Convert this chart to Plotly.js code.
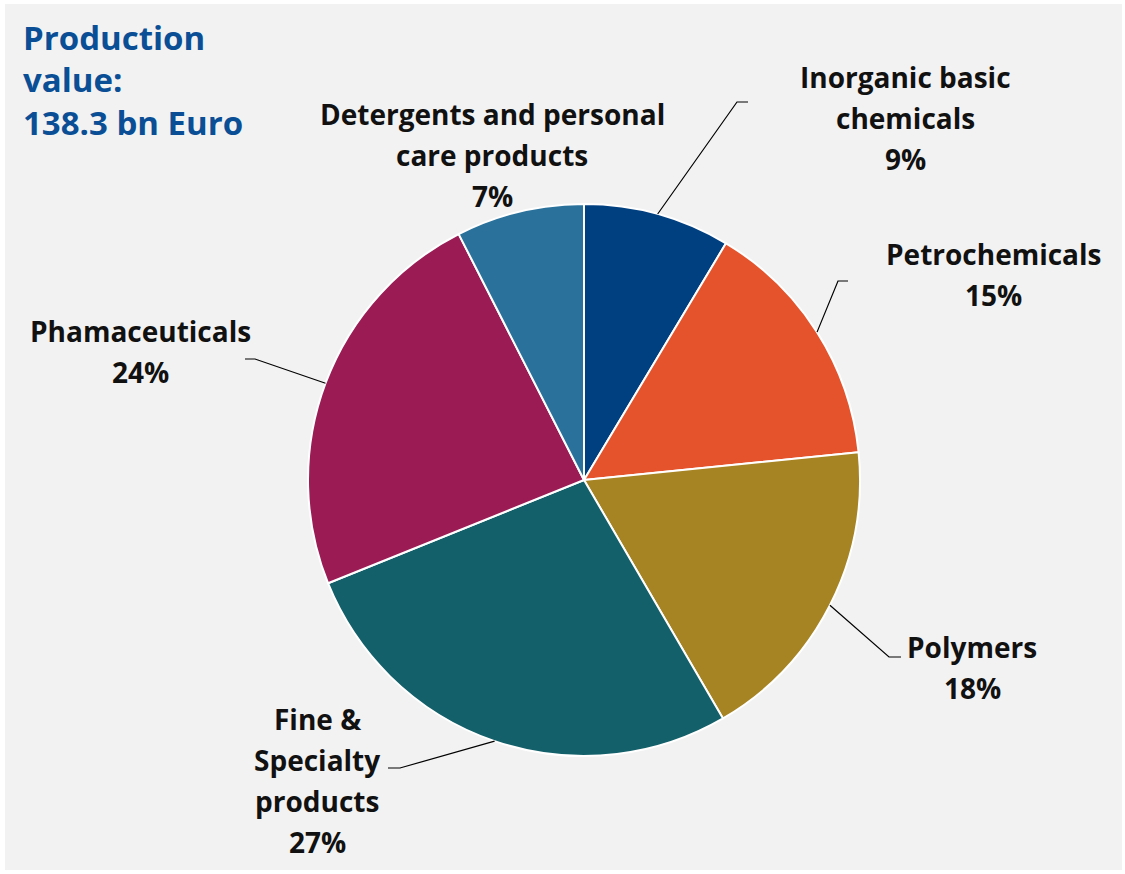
<!DOCTYPE html>
<html>
<head>
<meta charset="utf-8">
<script src="https://cdn.plot.ly/plotly-3.0.1.min.js"></script>
<style>html,body{margin:0;padding:0;background:#fff;}</style>
</head>
<body>
<div id="chart" style="width:1125px;height:874px;"></div>
<script>
// ---- data ----
const categories = ["Inorganic basic chemicals", "Petrochemicals", "Polymers", "Fine & Specialty products", "Phamaceuticals", "Detergents and personal care products"];
const shares = [8.6, 14.8, 18.2, 27.3, 23.6, 7.5];
const shareLabels = ["9%", "15%", "18%", "27%", "24%", "7%"];
const labelLines = [
  ["Inorganic basic", "chemicals"],
  ["Petrochemicals"],
  ["Polymers"],
  ["Fine &", "Specialty", "products"],
  ["Phamaceuticals"],
  ["Detergents and personal", "care products"]
];
const titleLines = ["Production", "value:", "138.3 bn Euro"];
const colors = ["#003f80", "#e4532b", "#a68424", "#13606a", "#9b1b55", "#2a729c"];

// ---- layout helpers ----
const W = 1125, H = 874;
const cx = 584, cy = 480, R = 276;
const fx = x => x / W;
const fy = y => 1 - y / H;

// label placement (pixel positions: center x, first line y) and leader elbows
const labelPos = [
  {x: 905, y: 77, elbow: [737, 102], end: 748},
  {x: 993, y: 254, elbow: [838, 281], end: 848},
  {x: 972, y: 647, elbow: [889, 657], end: 901},
  {x: 317, y: 719, elbow: [400, 768], end: 388},
  {x: 140, y: 331, elbow: [255, 359], end: 245},
  {x: 492, y: 114, elbow: null, end: null}
];
const lineGap = 41;
const labelFont = {family: "'Open Sans', sans-serif", size: 28, color: "#111111", weight: 700};

const annotations = [];
const shapes = [];

shapes.push({type: "rect", xref: "paper", yref: "paper", x0: fx(5), x1: fx(1122), y0: fy(870), y1: fy(4),
  fillcolor: "#f2f2f2", line: {width: 0}, layer: "below"});

const total = shares.reduce((a, b) => a + b, 0);
let cum = 0;
categories.forEach((c, i) => {
  const mid = (cum + shares[i] / 2) / total * 2 * Math.PI;
  cum += shares[i];
  const lp = labelPos[i];
  const lines = labelLines[i].concat([shareLabels[i]]);
  lines.forEach((t, k) => {
    annotations.push({text: "<b>" + t + "</b>", xref: "paper", yref: "paper",
      x: fx(lp.x), y: fy(lp.y + k * lineGap), xanchor: "center", yanchor: "middle",
      showarrow: false, font: labelFont});
  });
  if (lp.elbow) {
    const sx = cx + R * Math.sin(mid), sy = cy - R * Math.cos(mid);
    const path = "M " + fx(sx) + " " + fy(sy) + " L " + fx(lp.elbow[0]) + " " + fy(lp.elbow[1]) +
                 " L " + fx(lp.end) + " " + fy(lp.elbow[1]);
    shapes.push({type: "path", xref: "paper", yref: "paper", path: path,
      line: {color: "#000000", width: 1.2}, layer: "above"});
  }
});

titleLines.forEach((t, k) => {
  annotations.push({text: "<b>" + t + "</b>", xref: "paper", yref: "paper",
    x: fx(21), y: fy(37 + k * 42.5), xanchor: "left", yanchor: "middle", showarrow: false,
    font: {family: "'Open Sans', sans-serif", size: 33, color: "#0a4f96", weight: 700}});
});

const trace = {
  type: "pie",
  labels: categories,
  values: shares,
  sort: false,
  direction: "clockwise",
  rotation: 0,
  textinfo: "none",
  hoverinfo: "label+percent",
  showlegend: false,
  marker: {colors: colors, line: {color: "#ffffff", width: 2}},
  domain: {x: [fx(cx - R), fx(cx + R)], y: [fy(cy + R), fy(cy - R)]}
};

const layout = {
  width: W, height: H,
  margin: {l: 0, r: 0, t: 0, b: 0},
  paper_bgcolor: "#ffffff",
  plot_bgcolor: "#f2f2f2",
  showlegend: false,
  annotations: annotations,
  shapes: shapes
};

Plotly.newPlot("chart", [trace], layout, {displayModeBar: false, staticPlot: true});
</script>
</body>
</html>
